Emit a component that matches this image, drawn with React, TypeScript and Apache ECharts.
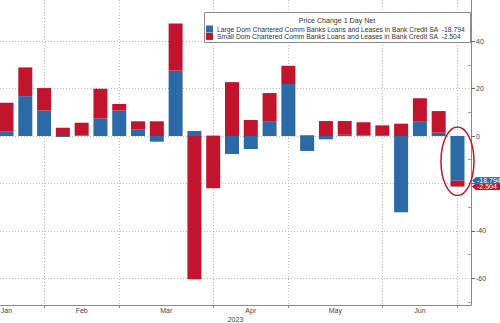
import React, { useEffect, useRef } from 'react';
import * as echarts from 'echarts';

const weeks = [
  '2023-01-18', '2023-01-25', '2023-02-01', '2023-02-08', '2023-02-15', '2023-02-22',
  '2023-03-01', '2023-03-08', '2023-03-15', '2023-03-22', '2023-03-29', '2023-04-05',
  '2023-04-12', '2023-04-19', '2023-04-26', '2023-05-03', '2023-05-10', '2023-05-17',
  '2023-05-24', '2023-05-31', '2023-06-07', '2023-06-14', '2023-06-21', '2023-06-28',
  '2023-07-05',
];
const monthNames = ['Jan', 'Feb', 'Mar', 'Apr', 'May', 'Jun'];
const yearLabel = '2023';
const legendTitle = 'Price Change 1 Day Net';
const largeName = 'Large Dom Chartered Comm Banks Loans and Leases in Bank Credit SA';
const smallName = 'Small Dom Chartered Comm Banks Loans and Leases in Bank Credit SA';
const largeValues = [1.8, 16.8, 10.7, -0.4, 0.2, 7.4, 10.7, 2.8, -2.4, 27.5, 2.1, 0.2, -7.6, -5.5, 6.0, 21.9, -6.3, -1.4, 0.5, 0.3, 0.1, -32.1, 6.0, 1.4, -18.794];
const smallValues = [12.2, 12.1, 9.5, 3.5, 5.4, 12.5, 2.8, 3.4, 6.2, 19.9, -60.4, -22.0, 22.7, 6.7, 12.1, 7.7, 0.3, 6.3, 5.8, 5.5, 4.4, 5.2, 9.9, 9.1, -2.504];
const yMajor = [-60, -40, -20, 0, 20, 40];
const yMinor = [-70, -50, -30, -10, 10, 30, 50];

const BLUE = '#2c69a7';
const RED = '#c2152d';
const FONT = 'Liberation Sans';
const Y_MIN = -71.2;
const Y_MAX = 57.3;
const X_MIN = -0.346;
const X_MAX = 24.72;

// month boundaries: index of first week of each month (virtual one for the first month)
function monthBoundaries(): number[] {
  const res: number[] = [];
  const d0 = new Date(weeks[0] + 'T00:00:00Z');
  let k = 0;
  const m0 = d0.getUTCMonth();
  while (true) {
    const p = new Date(d0.getTime() - (k + 1) * 7 * 86400000);
    if (p.getUTCMonth() !== m0) break;
    k++;
  }
  res.push(-k);
  for (let i = 1; i < weeks.length; i++) {
    const a = new Date(weeks[i - 1] + 'T00:00:00Z').getUTCMonth();
    const b = new Date(weeks[i] + 'T00:00:00Z').getUTCMonth();
    if (a !== b) res.push(i);
  }
  return res;
}

export default function App() {
  const ref = useRef<HTMLDivElement>(null);
  useEffect(() => {
    if (!ref.current) return;
    const chart = echarts.init(ref.current, null, { renderer: 'svg' });
    const bounds = monthBoundaries();
    const tickPos = bounds.slice(1);
    const labelPos = monthNames.map((_, i) => (bounds[i] + bounds[i + 1]) / 2);
    const lastL = largeValues[largeValues.length - 1];
    const lastS = smallValues[smallValues.length - 1];
    const fmt = (v: number) => v.toFixed(3);

    const txt = { color: '#444', fontSize: 7, fontFamily: FONT };

    // axes grid: left 0 .. 471 ; bars grid is aligned so that category centres hit the value positions
    const axLeft = 0;
    const axRight = 471;
    const scale = (axRight - axLeft) / (X_MAX - X_MIN);
    const barLeft = axLeft + (-0.5 - X_MIN) * scale;
    const barRight = axLeft + (weeks.length - 0.5 - X_MIN) * scale;

    chart.setOption({
      animation: false,
      grid: [
        { left: axLeft, width: axRight - axLeft, top: 0, bottom: 18, containLabel: false, outerBoundsMode: 'none' },
        { left: barLeft, width: barRight - barLeft, top: 0, bottom: 18, containLabel: false, outerBoundsMode: 'none' },
      ],
      legend: {
        orient: 'vertical',
        left: 206,
        top: 25.5,
        itemWidth: 7,
        itemHeight: 7,
        itemGap: 0.4,
        icon: 'rect',
        padding: 0,
        z: 10,
        textStyle: { color: '#333', fontSize: 6.8, fontFamily: FONT, padding: [0, 0, 0, -1] },
        formatter: (name: string) => `${name}  ${fmt(name === largeName ? lastL : lastS)}`,
        data: [largeName, smallName],
      },
      xAxis: [
        {
          type: 'value',
          gridIndex: 0,
          min: X_MIN,
          max: X_MAX,
          axisLine: { show: true, onZero: false, lineStyle: { color: '#8a8a8a' } },
          axisTick: { show: true, customValues: tickPos, length: 3, lineStyle: { color: '#8a8a8a' } },
          axisLabel: {
            customValues: labelPos,
            formatter: (v: number) => {
              const i = labelPos.findIndex((p) => Math.abs(p - v) < 1e-6);
              return i >= 0 ? monthNames[i] : '';
            },
            margin: 1.5,
            ...txt,
          },
          splitLine: { show: true, lineStyle: { type: [1, 2], color: '#b8b8b8' } },
          name: yearLabel,
          nameLocation: 'middle',
          nameGap: 11,
          nameMoveOverlap: false,
          nameTextStyle: { ...txt },
        },
        {
          type: 'category',
          gridIndex: 1,
          data: weeks,
          show: false,
        },
      ],
      yAxis: [
        {
          type: 'value',
          gridIndex: 0,
          position: 'right',
          min: Y_MIN,
          max: Y_MAX,
          axisLine: { show: true, onZero: false, lineStyle: { color: '#8a8a8a' } },
          axisTick: { show: true, customValues: yMajor, length: 4, inside: false, lineStyle: { color: '#666' } },
          axisLabel: { customValues: yMajor, margin: 5, ...txt },
          splitLine: { show: true, lineStyle: { type: [1, 2], color: '#b8b8b8' } },
        },
        {
          type: 'value',
          gridIndex: 0,
          position: 'right',
          min: Y_MIN,
          max: Y_MAX,
          axisLine: { show: false, onZero: false },
          axisTick: { show: true, customValues: yMinor, length: 3, inside: true, lineStyle: { color: '#999' } },
          axisLabel: { show: false },
          splitLine: { show: false },
        },
        {
          type: 'value',
          gridIndex: 1,
          min: Y_MIN,
          max: Y_MAX,
          show: false,
        },
      ],
      series: [
        {
          type: 'bar',
          name: largeName,
          stack: 'total',
          xAxisIndex: 1,
          yAxisIndex: 2,
          barWidth: 14,
          itemStyle: { color: BLUE },
          data: largeValues,
        },
        {
          type: 'bar',
          name: smallName,
          stack: 'total',
          xAxisIndex: 1,
          yAxisIndex: 2,
          barWidth: 14,
          itemStyle: { color: RED },
          data: smallValues,
        },
      ],
    });

    const n = largeValues.length;
    const xLast = chart.convertToPixel({ xAxisIndex: 1 }, weeks[n - 1]) as number;
    const y0 = chart.convertToPixel({ yAxisIndex: 0 }, 0) as number;
    const yL = chart.convertToPixel({ yAxisIndex: 0 }, lastL) as number;
    const yS = chart.convertToPixel({ yAxisIndex: 0 }, lastL + lastS) as number;
    const axisX = chart.convertToPixel({ xAxisIndex: 0 }, X_MAX) as number;

    const tag = (y: number, text: string, color: string, z: number) => [
      {
        type: 'polygon',
        z,
        shape: { points: [[axisX + 1, y], [axisX + 5, y - 3.6], [axisX + 5, y + 3.6]] },
        style: { fill: color },
      },
      {
        type: 'text',
        z,
        x: axisX + 5,
        y,
        style: {
          text,
          fill: '#fff',
          fontSize: 7,
          fontFamily: FONT,
          backgroundColor: color,
          padding: [0, 4, 0, 1],
          verticalAlign: 'middle',
          align: 'left',
        },
      },
    ];

    chart.setOption({
      graphic: [
        {
          type: 'rect',
          z: 5,
          shape: { x: 204.5, y: 12.5, width: 266, height: 30 },
          style: { fill: '#fff', stroke: '#8a8a8a', lineWidth: 1 },
        },
        {
          type: 'text',
          z: 6,
          x: 337,
          y: 21,
          style: { text: legendTitle, fill: '#333', fontSize: 7.1, fontFamily: FONT, align: 'center', verticalAlign: 'middle' },
        },
        {
          type: 'ellipse',
          z: 20,
          shape: { cx: xLast, cy: (y0 + yS) / 2, rx: 16.5, ry: (yS - y0) / 2 + 9 },
          style: { fill: 'none', stroke: RED, lineWidth: 1.5 },
        },
        ...tag(yS, fmt(lastS), RED, 21),
        ...tag(yL, fmt(lastL), BLUE, 22),
      ],
    });

    return () => chart.dispose();
  }, []);
  return (
    <div
      ref={ref}
      style={{ position: 'fixed', left: 0, top: 0, width: 500, height: 323, background: '#fff' }}
    />
  );
}
